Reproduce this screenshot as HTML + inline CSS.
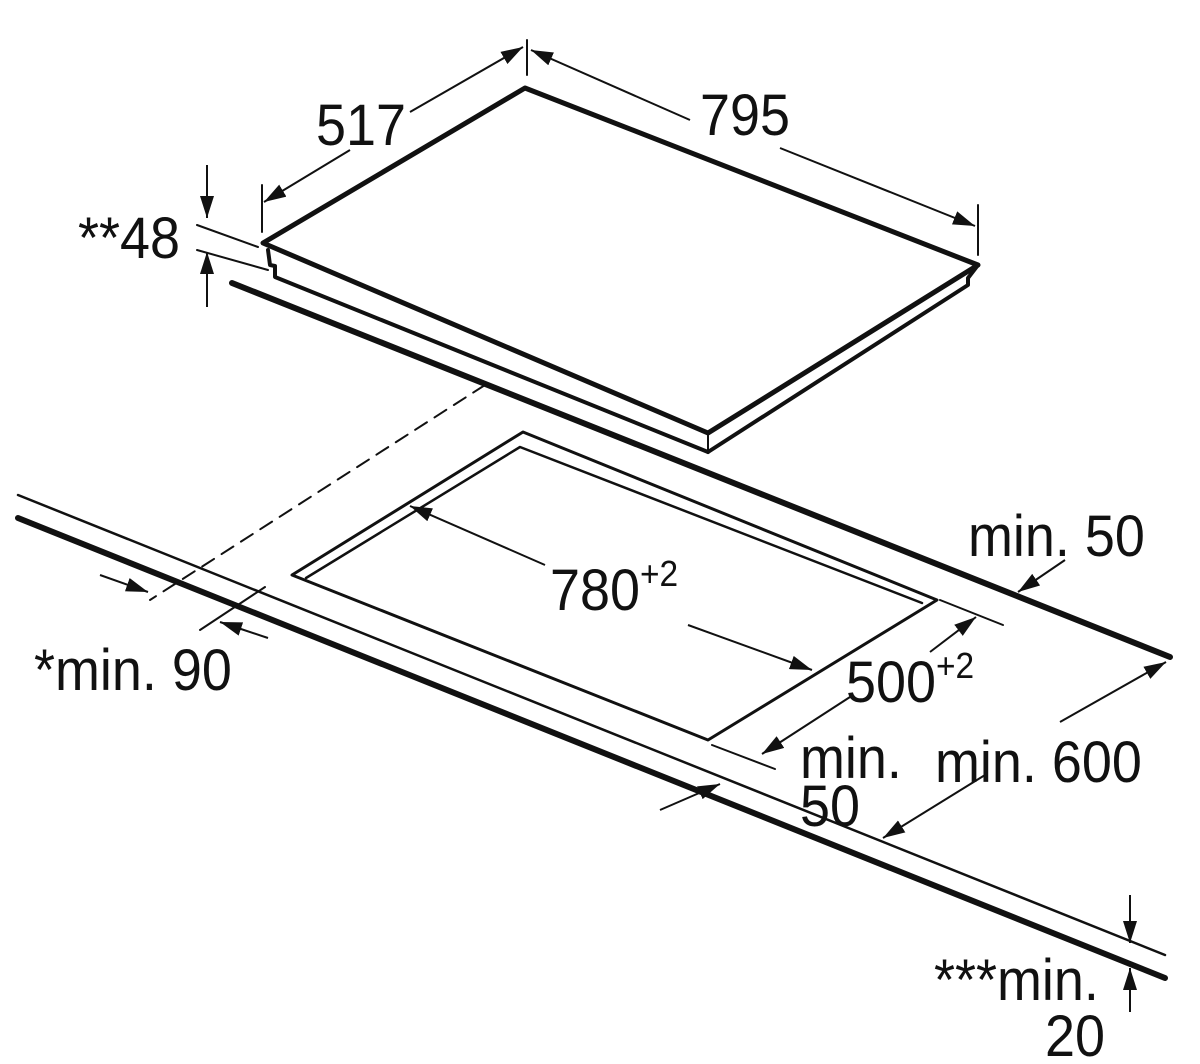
<!DOCTYPE html>
<html><head><meta charset="utf-8"><style>
html,body{margin:0;padding:0;background:#fff;}
svg{display:block}
text{font-family:"Liberation Sans",sans-serif;font-size:58px;fill:#111;}
</style></head><body>
<svg width="1200" height="1064" viewBox="0 0 1200 1064" xmlns="http://www.w3.org/2000/svg">
<defs>
<marker id="b" markerWidth="22" markerHeight="14" refX="22" refY="7" orient="auto" markerUnits="userSpaceOnUse" viewBox="0 0 22 14"><path d="M0,0 L22,7 L0,14 z" fill="#111"/></marker>
</defs>
<g stroke="#111" fill="none" stroke-linecap="round" stroke-linejoin="round">
<!-- hob -->
<path d="M525,88 L978,265 L708,433 L263,243 Z" stroke-width="5"/>
<path d="M268,250 L270,265 L275,266 L275,277 L708,452" stroke-width="4"/>
<path d="M978,265 L968,278 L968,285 L708,452" stroke-width="4"/>
<path d="M708,433 L708,452" stroke-width="2"/>
<!-- countertop back edge -->
<path d="M232,283 L1170,657" stroke-width="6"/>
<!-- front edges -->
<path d="M18,495 L1165,955" stroke-width="2.5"/>
<path d="M18,518 L1165,978" stroke-width="6"/>
<!-- dashed -->
<path d="M485,385 L150,600" stroke-width="2" stroke-dasharray="14,9"/>
<!-- cutout -->
<path d="M523,432 L937,600 L708,740 L292,575 Z" stroke-width="3"/>
<path d="M306,578 L520,447 L922,603" stroke-width="2.5"/>
<!-- extension lines -->
<path d="M527,40 L527,75 M262,185 L262,232 M978,205 L978,255" stroke-width="2"/>
<path d="M197,225 L258,247 M197,250 L268,270" stroke-width="2"/>
<path d="M200,630 L265,587 M940,600 L1003,625 M712,745 L775,769" stroke-width="2"/>
</g>
<g stroke="#111" stroke-width="2" fill="none">
<path d="M410,112 L523,47" marker-end="url(#b)"/>
<path d="M350,150 L264,202" marker-end="url(#b)"/>
<path d="M690,120 L531,50" marker-end="url(#b)"/>
<path d="M780,148 L975,226" marker-end="url(#b)"/>
<path d="M207,165 L207,218" marker-end="url(#b)"/>
<path d="M207,307 L207,252" marker-end="url(#b)"/>
<path d="M545,565 L410,506" marker-end="url(#b)"/>
<path d="M688,625 L812,670" marker-end="url(#b)"/>
<path d="M930,652 L976,617" marker-end="url(#b)"/>
<path d="M850,697 L762,754" marker-end="url(#b)"/>
<path d="M1065,560 L1018,592" marker-end="url(#b)"/>
<path d="M1060,722 L1166,662" marker-end="url(#b)"/>
<path d="M985,775 L883,838" marker-end="url(#b)"/>
<path d="M660,810 L720,784" marker-end="url(#b)"/>
<path d="M100,575 L148,592" marker-end="url(#b)"/>
<path d="M268,638 L220,622" marker-end="url(#b)"/>
<path d="M1130,895 L1130,943" marker-end="url(#b)"/>
<path d="M1130,1012 L1130,968" marker-end="url(#b)"/>
</g>
<g>
<text transform="translate(316,145) scale(0.93,1)">517</text>
<text transform="translate(700,135) scale(0.93,1)">795</text>
<text transform="translate(78,258) scale(0.93,1)">**48</text>
<text transform="translate(968,556) scale(0.93,1)">min. 50</text>
<text transform="translate(550,610) scale(0.93,1)">780<tspan dy="-24" font-size="36">+2</tspan></text>
<text transform="translate(846,702) scale(0.93,1)">500<tspan dy="-24" font-size="36">+2</tspan></text>
<text transform="translate(34,690) scale(0.93,1)">*min. 90</text>
<text transform="translate(800,778) scale(0.93,1)">min.</text>
<text transform="translate(800,826) scale(0.93,1)">50</text>
<text transform="translate(935,782) scale(0.93,1)">min. 600</text>
<text transform="translate(934,1000) scale(0.93,1)">***min.</text>
<text transform="translate(1045,1056) scale(0.93,1)">20</text>
</g>
</svg>
</body></html>
